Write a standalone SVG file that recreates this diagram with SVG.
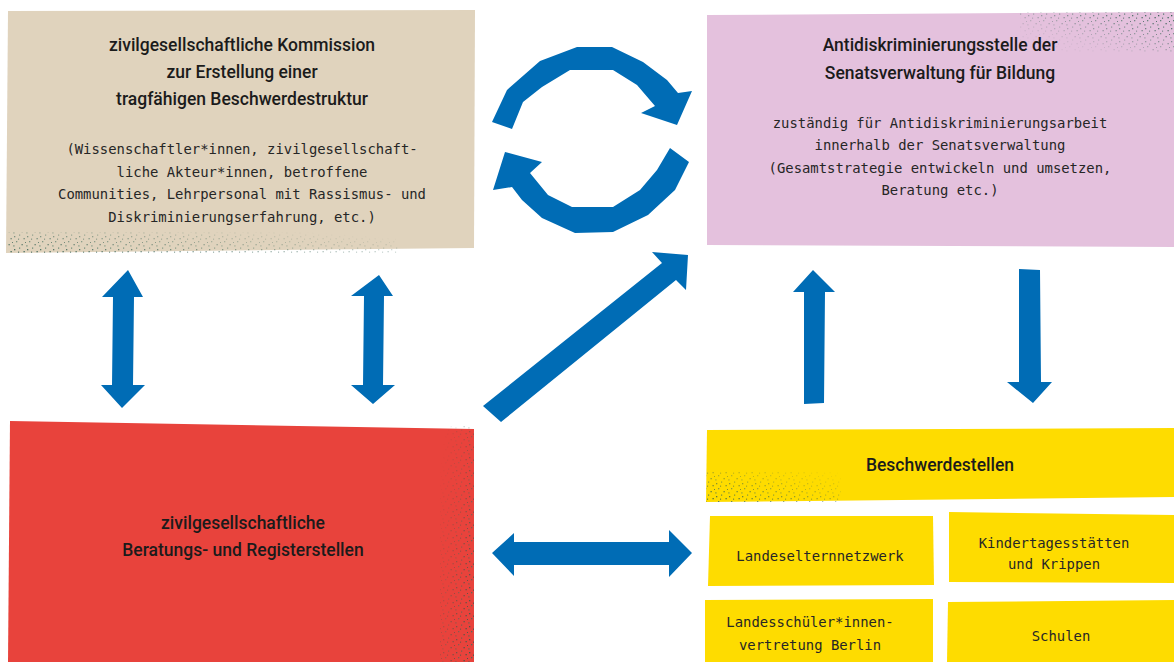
<svg xmlns="http://www.w3.org/2000/svg" width="1174" height="662" viewBox="0 0 1174 662">
<style>
.title{font-family:Roboto,"Liberation Sans",sans-serif;font-size:17.5px;font-weight:500;fill:#1b1b1b;text-anchor:middle}
.mono{font-family:"DejaVu Sans Mono","Liberation Mono",monospace;font-size:13.9px;fill:#262626;text-anchor:middle}
.arrow{fill:#006cb5}
.spk{fill:url(#dots)}
</style>
<defs>
<pattern id="dots" width="13" height="13" patternUnits="userSpaceOnUse">
<rect x="1" y="2" width="1.3" height="1.3" fill="#2c5a4d"/>
<rect x="6" y="0.5" width="1.2" height="1.2" fill="#3a6b5a"/>
<rect x="10.5" y="4" width="1.3" height="1.3" fill="#2c5a4d"/>
<rect x="3" y="7" width="1.3" height="1.3" fill="#43705f"/>
<rect x="8.5" y="10" width="1.3" height="1.3" fill="#2c5a4d"/>
<rect x="0.3" y="11.3" width="1.2" height="1.2" fill="#3a6b5a"/>
<rect x="12" y="8" width="1" height="1" fill="#2c5a4d"/>
<rect x="5" y="4.6" width="1.1" height="1.1" fill="#2c5a4d"/>
</pattern>
<linearGradient id="gTL" x1="0" y1="1" x2="1" y2="0.3">
<stop offset="0" stop-color="#fff" stop-opacity="0.9"/>
<stop offset="0.55" stop-color="#fff" stop-opacity="0.4"/>
<stop offset="1" stop-color="#fff" stop-opacity="0"/>
</linearGradient>
<linearGradient id="gTR" x1="1" y1="0" x2="0" y2="1">
<stop offset="0" stop-color="#fff" stop-opacity="1"/>
<stop offset="0.7" stop-color="#fff" stop-opacity="0.1"/>
<stop offset="1" stop-color="#fff" stop-opacity="0"/>
</linearGradient>
<linearGradient id="gR" x1="1" y1="1" x2="0" y2="0.2">
<stop offset="0" stop-color="#fff" stop-opacity="1"/>
<stop offset="0.6" stop-color="#fff" stop-opacity="0.3"/>
<stop offset="1" stop-color="#fff" stop-opacity="0"/>
</linearGradient>
<linearGradient id="gB" x1="0" y1="1" x2="1" y2="0">
<stop offset="0" stop-color="#fff" stop-opacity="0.9"/>
<stop offset="0.6" stop-color="#fff" stop-opacity="0.3"/>
<stop offset="1" stop-color="#fff" stop-opacity="0"/>
</linearGradient>
<mask id="mTL" maskContentUnits="objectBoundingBox"><rect width="1" height="1" fill="url(#gTL)"/></mask>
<mask id="mTR" maskContentUnits="objectBoundingBox"><rect width="1" height="1" fill="url(#gTR)"/></mask>
<mask id="mR" maskContentUnits="objectBoundingBox"><rect width="1" height="1" fill="url(#gR)"/></mask>
<mask id="mB" maskContentUnits="objectBoundingBox"><rect width="1" height="1" fill="url(#gB)"/></mask>
</defs>
<rect width="1174" height="662" fill="#fff"/>

<g id="kommission">
<polygon points="8,11 475,10 474,248 6,253" fill="#e0d3bd"/>
<rect class="spk" x="8" y="232" width="390" height="21" mask="url(#mTL)"/>
<text class="title" x="242" y="51">zivilgesellschaftliche Kommission</text>
<text class="title" x="242" y="78">zur Erstellung einer</text>
<text class="title" x="242" y="105">tragfähigen Beschwerdestruktur</text>
<text class="mono" x="242" y="154">(Wissenschaftler*innen, zivilgesellschaft-</text>
<text class="mono" x="242" y="176.5">liche Akteur*innen, betroffene</text>
<text class="mono" x="242" y="199">Communities, Lehrpersonal mit Rassismus- und</text>
<text class="mono" x="242" y="221.5">Diskriminierungserfahrung, etc.)</text>
</g>

<g id="antidiskriminierungsstelle">
<polygon points="707,15 1174,12 1174,247 707,245" fill="#e4c1dd"/>
<rect class="spk" x="1020" y="12" width="154" height="40" mask="url(#mTR)"/>
<text class="title" x="940" y="51">Antidiskriminierungsstelle der</text>
<text class="title" x="940" y="79">Senatsverwaltung für Bildung</text>
<text class="mono" x="940" y="128">zuständig für Antidiskriminierungsarbeit</text>
<text class="mono" x="940" y="150">innerhalb der Senatsverwaltung</text>
<text class="mono" x="940" y="172.5">(Gesamtstrategie entwickeln und umsetzen,</text>
<text class="mono" x="940" y="195">Beratung etc.)</text>
</g>

<g id="beratungsstellen">
<polygon points="10,421 474,429 474,662 8,662" fill="#e8433c"/>
<rect class="spk" x="440" y="425" width="34" height="237" mask="url(#mR)"/>
<text class="title" x="243" y="529">zivilgesellschaftliche</text>
<text class="title" x="243" y="556">Beratungs- und Registerstellen</text>
</g>

<g id="beschwerdestellen">
<polygon points="707,430 1174,428 1174,497 706,502" fill="#fedc00"/>
<rect class="spk" x="706" y="472" width="135" height="30" mask="url(#mB)"/>
<text class="title" x="940" y="471">Beschwerdestellen</text>
</g>

<g id="landeselternnetzwerk">
<polygon points="710,516 933,516 934,585 708,586" fill="#fedc00"/>
<text class="mono" x="820" y="561">Landeselternnetzwerk</text>
</g>

<g id="kindertagesstaetten">
<polygon points="949,512 1174,515 1174,583 949,582" fill="#fedc00"/>
<text class="mono" x="1054" y="548">Kindertagesstätten</text>
<text class="mono" x="1054" y="569">und Krippen</text>
</g>

<g id="landesschuelervertretung">
<polygon points="705,600 933,599 933,662 705,662" fill="#fedc00"/>
<text class="mono" x="810" y="627">Landesschüler*innen-</text>
<text class="mono" x="810" y="650">vertretung Berlin</text>
</g>

<g id="schulen">
<polygon points="948,602 1174,600 1174,662 947,662" fill="#fedc00"/>
<text class="mono" x="1061" y="641">Schulen</text>
</g>

<g id="connectors">
<polygon class="arrow" points="492,122 507,90 540,61 577,47 612,47 643,62 667,80 678,93 692,91 677,125 641,113 655,106 637,85 613,70 570,70 542,87 523,102 512,129"/>
<polygon class="arrow" points="689,162 675,190 648,215 613,232 575,233 542,218 522,200 512,187 493,190 505,152 542,162 530,173 548,195 572,207 613,207 640,190 657,170 670,148"/>
<polygon class="arrow" points="128,270 143,297 134,297 133,385 145,385 122,408 101,385 112,385 113,297 102,297"/>
<polygon class="arrow" points="379,275 393,296 384,296 383,385 395,385 373,404 351,385 363,385 364,296 351,296"/>
<polygon class="arrow" points="483,406 662,263 652,252 688,255 686,290 676,280 501,422"/>
<polygon class="arrow" points="813,270 835,292 825,292 824,403 804,404 804,292 793,292"/>
<polygon class="arrow" points="1019,269 1040,270 1041,382 1052,382 1033,403 1007,382 1019,382"/>
<polygon class="arrow" points="492,553 514,533 514,542 669,542 669,530 692,553 669,577 669,565 514,565 514,576"/>
</g>
</svg>
